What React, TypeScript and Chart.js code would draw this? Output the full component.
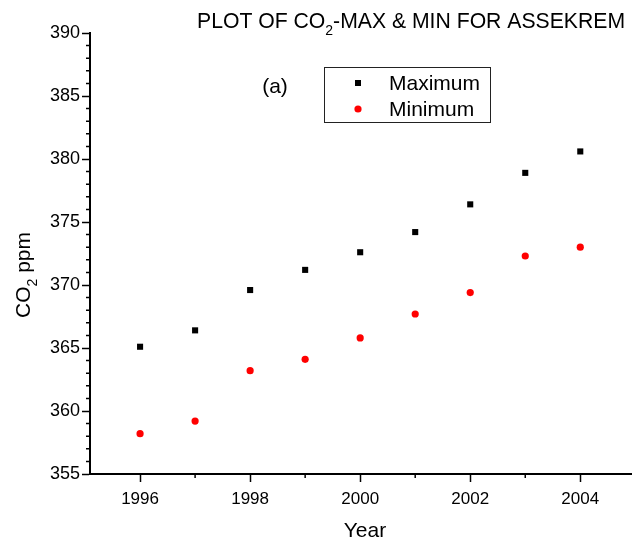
import React, { useEffect, useRef } from 'react';
import { Chart, registerables } from 'chart.js';

Chart.register(...registerables);

const FONT = '"Liberation Sans", Arial, Helvetica, sans-serif';

const years = [1996, 1997, 1998, 1999, 2000, 2001, 2002, 2003, 2004];
const maxValues = [365.1, 366.4, 369.6, 371.2, 372.6, 374.2, 376.4, 378.9, 380.6];
const minValues = [358.2, 359.2, 363.2, 364.1, 365.8, 367.7, 369.4, 372.3, 373.0];

const xMajorTicks = [1996, 1998, 2000, 2002, 2004];
const xMinorTicks = [1997, 1999, 2001, 2003];
const yMajorTicks = [355, 360, 365, 370, 375, 380, 385, 390];
const yMinorTicks: number[] = [];
for (let v = 355; v <= 390; v++) if (v % 5 !== 0) yMinorTicks.push(v);

const seriesNames = ['Maximum', 'Minimum'];
const titleParts = [
  { text: 'PLOT OF CO', sub: false },
  { text: '2', sub: true },
  { text: '-MAX & MIN FOR ASSEKREM', sub: false },
];
const yTitleParts = [
  { text: 'CO', sub: false },
  { text: '2', sub: true },
  { text: ' ppm', sub: false },
];
const xTitle = 'Year';
const panelLabel = '(a)';

function drawRich(ctx: CanvasRenderingContext2D, parts: { text: string; sub: boolean }[], x: number, y: number, size: number, subSize: number, subDrop: number, align: 'left' | 'center') {
  const widths = parts.map((p) => {
    ctx.font = `${p.sub ? subSize : size}px ${FONT}`;
    return ctx.measureText(p.text).width;
  });
  const total = widths.reduce((a, b) => a + b, 0);
  let cx = align === 'center' ? x - total / 2 : x;
  ctx.textAlign = 'left';
  ctx.textBaseline = 'alphabetic';
  parts.forEach((p, i) => {
    ctx.font = `${p.sub ? subSize : size}px ${FONT}`;
    ctx.fillText(p.text, cx, p.sub ? y + subDrop : y);
    cx += widths[i];
  });
}

const overlayPlugin = {
  id: 'overlay',
  afterDraw(chart: any) {
    const ctx: CanvasRenderingContext2D = chart.ctx;
    const xs = chart.scales.x;
    const ys = chart.scales.y;
    const area = chart.chartArea;
    ctx.save();
    // minor ticks
    ctx.strokeStyle = '#000';
    ctx.lineWidth = 1.5;
    ctx.beginPath();
    for (const v of yMinorTicks) {
      const py = ys.getPixelForValue(v);
      ctx.moveTo(area.left - 4, py);
      ctx.lineTo(area.left, py);
    }
    for (const v of xMinorTicks) {
      const px = xs.getPixelForValue(v);
      ctx.moveTo(px, area.bottom);
      ctx.lineTo(px, area.bottom + 4);
    }
    ctx.stroke();

    ctx.fillStyle = '#000';
    // title
    drawRich(ctx, titleParts, 197, 28, 21.2, 14, 7, 'left');
    // x title
    ctx.font = `21px ${FONT}`;
    ctx.textAlign = 'center';
    ctx.textBaseline = 'alphabetic';
    ctx.fillText(xTitle, 365, 537);
    // y title
    ctx.save();
    ctx.translate(30, 275);
    ctx.rotate(-Math.PI / 2);
    drawRich(ctx, yTitleParts, 0, 0, 21, 14, 7, 'center');
    ctx.restore();
    // panel label
    ctx.font = `21px ${FONT}`;
    ctx.textAlign = 'center';
    ctx.textBaseline = 'middle';
    ctx.fillText(panelLabel, 275, 87);

    // legend
    ctx.strokeStyle = '#222';
    ctx.lineWidth = 1;
    ctx.strokeRect(324.5, 67.5, 166, 55);
    const ds = chart.data.datasets;
    const rows = [83, 109];
    ds.forEach((d: any, i: number) => {
      const cy = rows[i];
      ctx.fillStyle = d.pointBackgroundColor;
      if (d.pointStyle === 'rect') {
        ctx.fillRect(358 - 3, cy - 3, 6, 6);
      } else {
        ctx.beginPath();
        ctx.arc(358, cy, 3.6, 0, Math.PI * 2);
        ctx.fill();
      }
      ctx.fillStyle = '#000';
      ctx.font = `21px ${FONT}`;
      ctx.textAlign = 'left';
      ctx.textBaseline = 'middle';
      ctx.fillText(d.label, 389, cy + 1);
    });
    ctx.restore();
  },
};

export default function App() {
  const ref = useRef<HTMLCanvasElement | null>(null);
  useEffect(() => {
    if (!ref.current) return;
    const chart = new Chart(ref.current, {
      type: 'scatter',
      data: {
        datasets: [
          {
            label: seriesNames[0],
            data: years.map((y, i) => ({ x: y, y: maxValues[i] })),
            pointStyle: 'rect',
            pointRadius: 4.3,
            pointBorderWidth: 0,
            pointBackgroundColor: '#000000',
            pointBorderColor: '#000000',
            showLine: false,
          },
          {
            label: seriesNames[1],
            data: years.map((y, i) => ({ x: y, y: minValues[i] })),
            pointStyle: 'circle',
            pointRadius: 3.6,
            pointBorderWidth: 0,
            pointBackgroundColor: '#ff0000',
            pointBorderColor: '#ff0000',
            showLine: false,
          },
        ] as any,
      },
      options: {
        animation: false,
        responsive: false,
        devicePixelRatio: 1,
        layout: { autoPadding: false, padding: { top: 33, right: 0, bottom: 0, left: 0 } },
        plugins: { legend: { display: false }, tooltip: { enabled: false }, title: { display: false } },
        scales: {
          x: {
            type: 'linear',
            min: 1995.09,
            max: 2004.94,
            afterFit: (s: any) => { s.height = 70; s.paddingRight = 0; s.paddingLeft = 0; },
            afterBuildTicks: (s: any) => { s.ticks = xMajorTicks.map((v) => ({ value: v })); },
            grid: { drawOnChartArea: false, drawTicks: true, tickLength: 8, tickWidth: 1.5, tickColor: '#000' },
            border: { display: true, color: '#000', width: 2 },
            ticks: { color: '#000', font: { family: FONT, size: 17 }, padding: 7, maxRotation: 0, callback: (v: any) => String(v) },
          },
          y: {
            type: 'linear',
            min: 355,
            max: 390,
            afterFit: (s: any) => { s.width = 90; s.paddingTop = 0; s.paddingBottom = 0; },
            afterBuildTicks: (s: any) => { s.ticks = yMajorTicks.map((v) => ({ value: v })); },
            grid: { drawOnChartArea: false, drawTicks: true, tickLength: 8, tickWidth: 1.5, tickColor: '#000' },
            border: { display: true, color: '#000', width: 2 },
            ticks: { color: '#000', font: { family: FONT, size: 18 }, padding: 2, callback: (v: any) => String(v) },
          },
        },
      } as any,
      plugins: [overlayPlugin],
    });
    return () => chart.destroy();
  }, []);
  return (
    <div style={{ position: 'absolute', left: 0, top: 0, width: 632, height: 544, background: '#fff' }}>
      <canvas ref={ref} width={632} height={544} style={{ display: 'block' }} />
    </div>
  );
}
